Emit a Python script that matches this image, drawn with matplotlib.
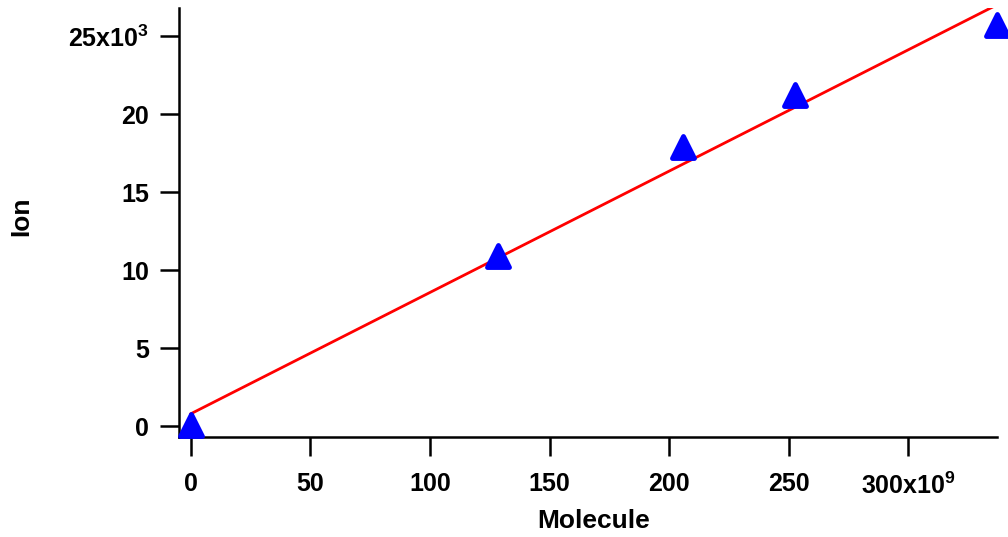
import matplotlib
matplotlib.use("Agg")
import numpy as np
import matplotlib.pyplot as plt
from matplotlib.markers import MarkerStyle

plt.rcParams["font.family"] = ["Liberation Sans", "DejaVu Sans"]
plt.rcParams["font.weight"] = "bold"
plt.rcParams["mathtext.fontset"] = "custom"
plt.rcParams["mathtext.rm"] = "Liberation Sans:bold"
plt.rcParams["mathtext.it"] = "Liberation Sans:bold"
plt.rcParams["mathtext.bf"] = "Liberation Sans:bold"

# data (molecule in 1e9, ion in 1e3)
molecule = [0.0, 128.5, 205.9, 252.7, 337.0]
ion = [0.1, 10.9, 17.9, 21.2, 25.7]

x_ticks = [0, 50, 100, 150, 200, 250, 300]
x_labels = ["0", "50", "100", "150", "200", "250", r"$\mathregular{300x10^{9}}$"]
y_ticks = [0, 5, 10, 15, 20, 25]
y_labels = ["0", "5", "10", "15", "20", r"$\mathregular{25x10^{3}}$"]

# linear fit
slope, intercept = np.polyfit(molecule, ion, 1)
fit_x = np.array([0.0, 337.0])
fit_y = slope * fit_x + intercept

fig = plt.figure(figsize=(10.08, 5.37), dpi=100)
ax = fig.add_axes([179 / 1008, 1 - 437 / 537, (997 - 179) / 1008, (437 - 8) / 537])

ax.plot(fit_x, fit_y, color="red", linewidth=2, zorder=2)
tri = MarkerStyle("^", joinstyle="round")
ax.plot(molecule, ion, linestyle="none", marker=tri, markersize=15.5,
        color="blue", markeredgewidth=3.5, markeredgecolor="blue",
        clip_on=False, zorder=3)

ax.set_xlim(-5.0, 337.2)
ax.set_ylim(-0.7, 26.8)

ax.set_xticks(x_ticks)
ax.set_xticklabels(x_labels)
ax.set_yticks(y_ticks)
ax.set_yticklabels(y_labels)

for side in ["top", "right"]:
    ax.spines[side].set_visible(False)
for side in ["left", "bottom"]:
    ax.spines[side].set_linewidth(1.8)

ax.tick_params(axis="both", direction="out", length=13.5, width=1.8,
               labelsize=18)
ax.tick_params(axis="x", pad=12)
ax.tick_params(axis="y", pad=8)

fig.text(594 / 1008, 1 - 521 / 537, "Molecule", ha="center", va="center",
         fontsize=19, fontweight="bold")
fig.text(21 / 1008, 1 - 216 / 537, "Ion", ha="center", va="center",
         rotation=90, fontsize=19, fontweight="bold")

fig.savefig("out.png", dpi=100)
